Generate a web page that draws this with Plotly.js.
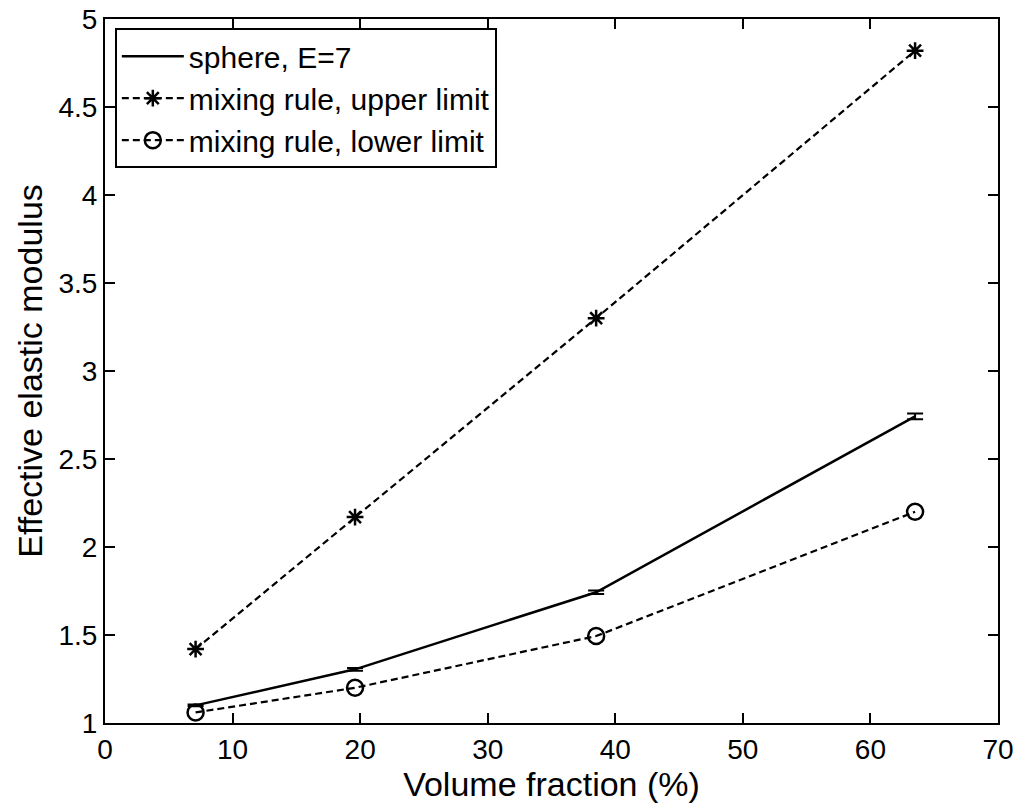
<!DOCTYPE html>
<html>
<head>
<meta charset="utf-8">
<script src="https://cdn.plot.ly/plotly-3.0.1.min.js"></script>
<style>html,body{margin:0;padding:0;background:#fff}#chart{width:1022px;height:807px}</style>
</head>
<body>
<div id="chart"></div>
<script>
var volumeFraction = [7.1, 19.6, 38.5, 63.5];
var sphereE7 = [1.10, 1.305, 1.743, 2.742];
var sphereErr = [0.005, 0.008, 0.01, 0.016];
var upperLimit = [1.42, 2.17, 3.30, 4.82];
var lowerLimit = [1.06, 1.20, 1.494, 2.20];
var xTicks = [0, 10, 20, 30, 40, 50, 60, 70];
var yTicks = [1, 1.5, 2, 2.5, 3, 3.5, 4, 4.5, 5];
var yTickText = ['1', '1.5', '2', '2.5', '3', '3.5', '4', '4.5', '5'];

var FONT = 'Liberation Sans, Arial, sans-serif';

var traces = [
  {
    x: volumeFraction, y: sphereE7, name: 'sphere, E=7', type: 'scatter', mode: 'lines',
    line: {color: '#000', width: 2.5},
    error_y: {type: 'data', array: sphereErr, visible: true, color: '#000', thickness: 2, width: 8}
  },
  {
    x: volumeFraction, y: upperLimit, name: 'mixing rule, upper limit', type: 'scatter', mode: 'lines+markers',
    line: {color: '#000', width: 2.2, dash: '7px,4px'},
    marker: {symbol: 'asterisk-open', size: 14, color: '#000', line: {color: '#000', width: 2.5}}
  },
  {
    x: volumeFraction, y: lowerLimit, name: 'mixing rule, lower limit', type: 'scatter', mode: 'lines+markers',
    line: {color: '#000', width: 2.2, dash: '7px,4px'},
    marker: {symbol: 'circle-open', size: 16, color: '#000', line: {color: '#000', width: 2.5}}
  }
];

var axisCommon = {
  showline: true, linecolor: '#000', linewidth: 2, mirror: 'ticks',
  ticks: 'inside', ticklen: 10, tickwidth: 2, tickcolor: '#000',
  showgrid: false, zeroline: false,
  tickfont: {family: FONT, size: 28, color: '#000'}
};

var layout = {
  width: 1022, height: 807,
  margin: {l: 105, r: 24, t: 19, b: 84},
  paper_bgcolor: '#fff', plot_bgcolor: '#fff',
  font: {family: FONT, color: '#000'},
  showlegend: true,
  legend: {
    x: 0.011, y: 0.987, xanchor: 'left', yanchor: 'top',
    bgcolor: '#fff', bordercolor: '#000', borderwidth: 2,
    font: {family: FONT, size: 30, color: '#000'},
    itemwidth: 62, tracegroupgap: 0
  },
  xaxis: Object.assign({}, axisCommon, {
    range: [0, 70], tickvals: xTicks, ticktext: xTicks.map(String),
    title: {text: 'Volume fraction (%)', font: {family: FONT, size: 34, color: '#000'}, standoff: 6}
  }),
  yaxis: Object.assign({}, axisCommon, {
    range: [1, 5], tickvals: yTicks, ticktext: yTickText,
    title: {text: 'Effective elastic modulus', font: {family: FONT, size: 34, color: '#000'}, standoff: 6}
  })
};

Plotly.newPlot('chart', traces, layout, {displayModeBar: false, staticPlot: true});
</script>
</body>
</html>
